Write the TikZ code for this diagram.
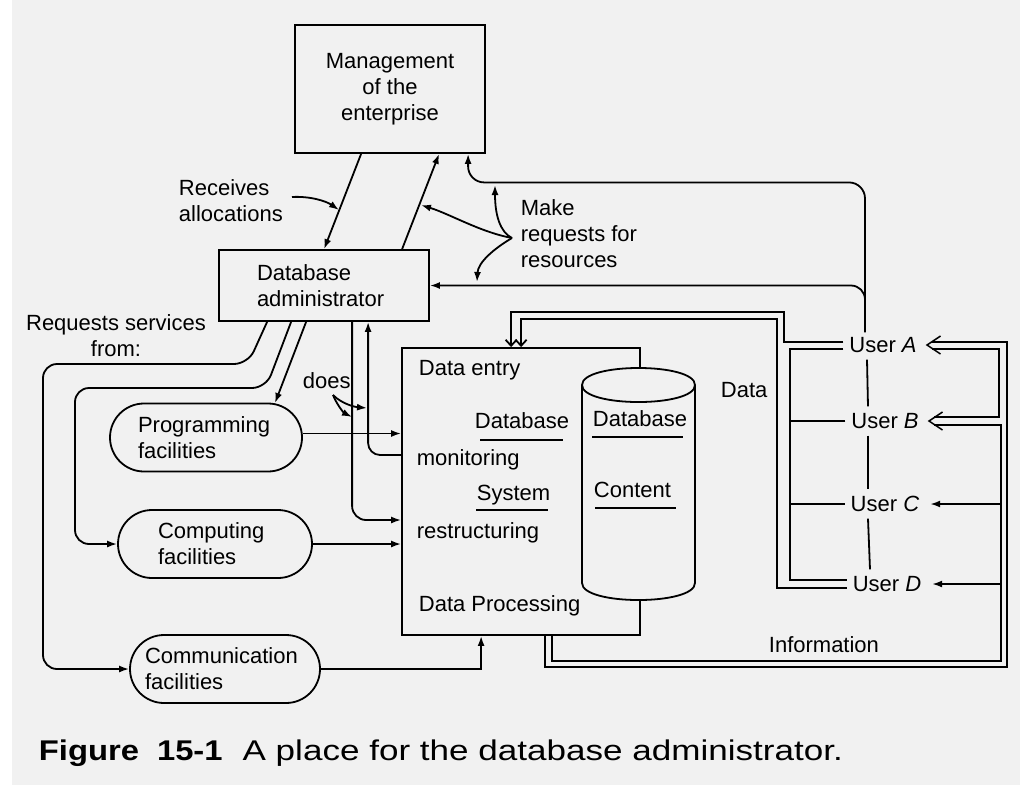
\documentclass[tikz,border=0pt]{standalone}
\usepackage{fontspec}
\setmainfont{Liberation Sans}
\newfontfamily\capr[FakeStretch=1.23]{Liberation Sans}
\newfontfamily\capb[FakeStretch=1.15]{Liberation Sans}
\usetikzlibrary{arrows.meta,calc}
\definecolor{bgc}{RGB}{241,241,241}
\begin{document}
\begin{tikzpicture}[x=1pt,y=-1pt, line width=1.8pt,
  font=\fontsize{22}{26}\selectfont,
  box/.style={draw, rectangle, inner sep=0pt},
  fac/.style={draw, rectangle, rounded corners=34pt, minimum height=68pt, align=left, inner ysep=0pt},
  lbl/.style={inner sep=0pt},
  arr/.style={-{Latex[length=10pt,width=7pt]}},
  oarr/.style={-{Straight Barb[length=6pt,width=11pt]}},
  usr/.style={inner xsep=5pt, inner ysep=0pt}]
\useasboundingbox (0,0) rectangle (1020,785);
\fill[white] (0,0) rectangle (1020,785);
\fill[bgc] (12,0) rectangle (1020,785);

% main nodes
\node[box, minimum width=190pt, minimum height=128pt, align=center] (mgmt) at (390,89) {Management\\of the\\enterprise};
\node[box, minimum width=210pt, minimum height=71pt, text width=134pt, inner xsep=38pt, align=left] (dba) at (324,285.5) {Database\\administrator};
\node[fac, text width=136pt, inner xsep=28pt] (prog) at (206,437.5) {Programming\\facilities};
\node[fac, text width=114pt, inner xsep=40pt] (comp) at (215,544) {Computing\\facilities};
\node[fac, text width=160pt, inner xsep=15pt] (comm) at (225,669) {Communication\\facilities};
\node[box, minimum width=238pt, minimum height=287pt] (data) at (521,491.5) {};

% cylinder
\draw[fill=bgc] (582,385) -- (582,583) .. controls (582,605.7) and (695,605.7) .. (695,583)
   -- (695,385) .. controls (695,362.3) and (582,362.3) .. (582,385) -- cycle;
\draw (582,385) .. controls (582,407.7) and (695,407.7) .. (695,385);

% texts in data box
\node[lbl, anchor=base west] (de) at (418,375) {Data entry};
\node[lbl, anchor=base west] (dbm1) at (474,428) {Database};
\node[lbl, anchor=base west] (dbm2) at (416,465) {monitoring};
\node[lbl, anchor=base west] (sr1) at (476,500) {System};
\node[lbl, anchor=base west] (sr2) at (416,538) {restructuring};
\node[lbl, anchor=base west] (dp) at (418,611) {Data Processing};
\draw (480,440) -- (563,440);
\draw (476,510) -- (548,510);
\node[lbl, anchor=base west] (cy1) at (592,426) {Database};
\node[lbl, anchor=base west] (cy2) at (593,497) {Content};
\draw (592,437) -- (683,437);
\draw (595,508) -- (676,508);
\node[lbl, anchor=base west] (datal) at (720,397) {Data};
\node[lbl, anchor=base west] (infol) at (768,652) {Information};

% users
\node[usr] (uA) at (883,345) {User \textit{A}};
\node[usr] (uB) at (885,421) {User \textit{B}};
\node[usr] (uC) at (885,504) {User \textit{C}};
\node[usr] (uD) at (887,584) {User \textit{D}};

% labels
\node[lbl, align=left, anchor=west] (recv) at (178,201) {Receives\\allocations};
\node[lbl, align=left, anchor=west] (mk) at (520,234) {Make\\requests for\\resources};
\node[lbl, align=center] (reqs) at (116,336) {Requests services\\from:};
\node[lbl, anchor=west] (does) at (302,381) {does};

% management <-> dba
\draw[arr] ([xshift=67pt]mgmt.south west) -- ([xshift=106pt]dba.north west);
\draw[arr] ([xshift=184pt]dba.north west) -- ([xshift=145pt]mgmt.south west);

% request lines from users
\coordinate (vt) at ([xshift=-18pt,yshift=4pt]uA.north);
\draw[arr, rounded corners=16pt] (vt) -- ++(0,-150) -| ([xshift=174pt]mgmt.south west);
\coordinate (j1) at (865,305);
\draw[arr, rounded corners=14pt] (j1) |- (dba.east);
\draw ([xshift=-16pt,yshift=-6pt]uA.south) -- ([xshift=-17pt,yshift=6pt]uB.north);
\draw ([xshift=-17pt,yshift=-6pt]uB.south) -- ([xshift=-17pt,yshift=6pt]uC.north);
\draw ([xshift=-17pt,yshift=-6pt]uC.south) -- ([xshift=-17pt,yshift=6pt]uD.north);

% label pointers
\coordinate (mkp) at (512,238);
\coordinate (t1) at (495,185);
\coordinate (t2) at (421,205);
\coordinate (t3) at (477,282);
\draw[arr] (mkp) .. controls (500,232) and (495,215) .. (t1);
\draw[arr] (mkp) .. controls (480,232) and (450,214) .. (t2);
\draw[arr] (mkp) .. controls (495,248) and (478,262) .. (t3);
\coordinate (rp) at (292,197);
\coordinate (rt) at (339,210);
\draw[arr] (rp) .. controls (310,196) and (326,201) .. (rt);
\coordinate (dp0) at (333,395);
\coordinate (dt1) at (367,408);
\coordinate (dt2) at (352,417);
\draw[arr] (dp0) .. controls (342,404) and (355,407) .. (dt1);
\draw[arr] (dp0) .. controls (337,405) and (344,413) .. (dt2);

% services from dba
\draw[arr, rounded corners=14pt] ([xshift=49pt]dba.south west) -- (248,364) -- (43,364) |- (comm.west);
\draw[arr, rounded corners=14pt] ([xshift=73pt]dba.south west) -- (266,388) -- (75,388) |- (comp.west);
\draw[arr] ([xshift=88pt]dba.south west) -- (275,403);
\draw[arr, rounded corners=14pt] ([xshift=134pt]dba.south west) |- ([yshift=-28.5pt]data.west);
\draw[arr, rounded corners=12pt] ([yshift=36.5pt]data.west) -| ([xshift=150pt]dba.south west);

% facilities -> data
\draw[arr] ([yshift=4pt]prog.east) -- ([yshift=4pt]prog.east -| data.west);
\draw[arr] (comp.east) -- (comp.east -| data.west);
\draw[arr] (comm.east) -| ([xshift=80pt]data.south west);

% data from users (left bus)
\draw[oarr] ([yshift=3pt]uA.west) -| (784,312) -| ([xshift=110pt]data.north west);
\draw[oarr] ([yshift=-4pt]uD.west) -| (777,319) -| ([xshift=120pt]data.north west);
\coordinate (g1) at (790,351);
\draw ([yshift=-4pt]uA.west) -| (790,580) -- ([yshift=4pt]uD.west);
\draw (uB.west) -- (uB.west -| g1);
\draw (uC.west) -- (uC.west -| g1);

% information to users (right)
\draw ([xshift=144pt]data.south west) |- (1007,667) |- ([xshift=9.5pt,yshift=3pt]uA.east);
\draw ([xshift=9.5pt,yshift=-4pt]uA.east) -| (999,417) -- ([xshift=9.5pt,yshift=4pt]uB.east);
\coordinate (iv) at (1001,425);
\draw ([xshift=151pt]data.south west) |- (1001,661) -- (iv) -- ([xshift=9.5pt,yshift=-4pt]uB.east);
\draw[arr] (uC.east -| iv) -- ([xshift=5pt]uC.east);
\draw[arr] (uD.east -| iv) -- ([xshift=5pt]uD.east);
\draw[line width=1.5pt] ([xshift=18pt,yshift=9pt]uA.east) -- ([xshift=4.5pt]uA.east) -- ([xshift=18pt,yshift=-9pt]uA.east);
\draw[line width=1.5pt] ([xshift=18pt,yshift=9pt]uB.east) -- ([xshift=4.5pt]uB.east) -- ([xshift=18pt,yshift=-9pt]uB.east);

% caption
\node[lbl, anchor=base west] (cap) at (38,760) {{\capb\fontsize{28.5}{30}\selectfont\bfseries Figure\hspace{18pt}15-1}\hspace{20pt}{\capr\fontsize{28.5}{30}\selectfont A place for the database administrator.}};
\end{tikzpicture}
\end{document}
